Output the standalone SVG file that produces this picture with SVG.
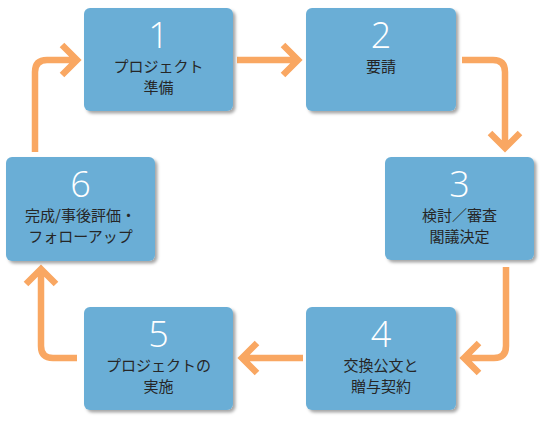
<svg xmlns="http://www.w3.org/2000/svg" width="552" height="430" viewBox="0 0 552 430">
<defs>
<filter id="sh" x="-10%" y="-10%" width="130%" height="130%">
<feDropShadow dx="2.5" dy="2.5" stdDeviation="1.5" flood-color="#000" flood-opacity="0.35"/>
</filter>
<style>
.box{fill:#6AAED6;filter:url(#sh)}
.num{font-family:"Open Sans","Liberation Sans",sans-serif;font-weight:300;font-size:36px;fill:#fff;text-anchor:middle}
.lbl{font-family:"Noto Sans CJK JP",sans-serif;font-size:15px;fill:#262626;text-anchor:middle}
.arr{fill:none;stroke:#F9A762;stroke-width:6.5;stroke-linejoin:miter}
</style>
</defs>
<rect width="552" height="430" fill="#fff"/>
<g id="connectors">
<path class="arr" d="M237,60 H297 M283,45 L298,60 L283,75"/>
<path class="arr" d="M462,60 H493 Q505,60 505,72 V147 M490,133 L505,148 L520,133"/>
<path class="arr" d="M506,267 V346 Q506,358 494,358 H465 M479,343 L464,358 L479,373"/>
<path class="arr" d="M303,358 H243 M257,343 L242,358 L257,373"/>
<path class="arr" d="M77,358 H53 Q41,358 41,346 V270 M26,284 L41,269 L56,284"/>
<path class="arr" d="M35,152 V72 Q35,60 47,60 H76 M62,45 L77,60 L62,75"/>
</g>
<g id="node1">
<rect class="box" x="84" y="8" width="149" height="103" rx="6"/>
<text class="num" x="158.5" y="48">1</text>
<text class="lbl" x="158.5" y="72">プロジェクト</text>
<text class="lbl" x="158.5" y="93">準備</text>
</g>
<g id="node2">
<rect class="box" x="306" y="8" width="150" height="103" rx="6"/>
<text class="num" x="381" y="48">2</text>
<text class="lbl" x="381" y="72">要請</text>
</g>
<g id="node3">
<rect class="box" x="385" y="157" width="149" height="103" rx="6"/>
<text class="num" x="459.5" y="197">3</text>
<text class="lbl" x="459.5" y="221">検討／審査</text>
<text class="lbl" x="459.5" y="242">閣議決定</text>
</g>
<g id="node4">
<rect class="box" x="306" y="307" width="150" height="103" rx="6"/>
<text class="num" x="381" y="347">4</text>
<text class="lbl" x="381" y="371">交換公文と</text>
<text class="lbl" x="381" y="392">贈与契約</text>
</g>
<g id="node5">
<rect class="box" x="84" y="307" width="149" height="103" rx="6"/>
<text class="num" x="158.5" y="347">5</text>
<text class="lbl" x="158.5" y="371">プロジェクトの</text>
<text class="lbl" x="158.5" y="392">実施</text>
</g>
<g id="node6">
<rect class="box" x="6" y="157" width="149" height="104" rx="6"/>
<text class="num" x="80.5" y="197">6</text>
<text class="lbl" x="80.5" y="221">完成/事後評価・</text>
<text class="lbl" x="80.5" y="242">フォローアップ</text>
</g>
</svg>
